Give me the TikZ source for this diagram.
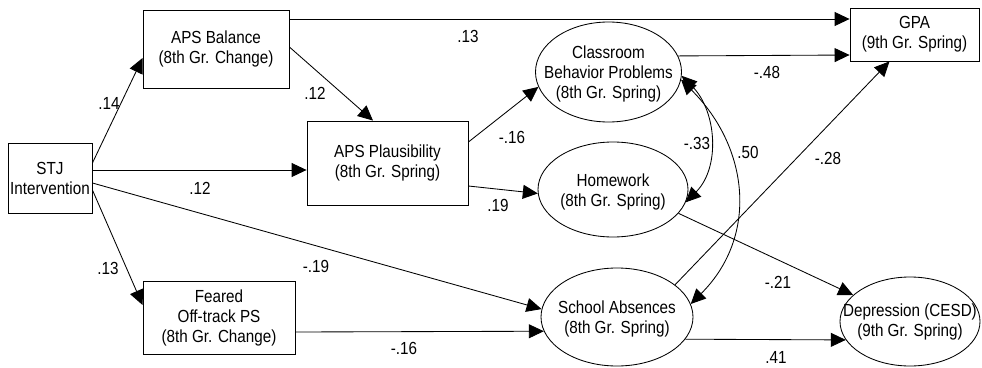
\documentclass[tikz,border=0pt]{standalone}
\usepackage{fontspec}
\setmainfont{Liberation Sans}[FakeStretch=0.87]
\usetikzlibrary{arrows.meta,shapes.geometric}
\begin{document}
\begin{tikzpicture}[x=1pt,y=-1pt,line width=0.85pt,
  >={Triangle[length=15pt,width=14pt]},
  txt/.style={font=\fontsize{17.5}{20}\selectfont,align=center,inner sep=0pt},
  box/.style={draw,rectangle,inner sep=0pt,txt},
  oval/.style={draw,ellipse,inner sep=0pt},
  lab/.style={font=\fontsize{17.5}{20}\selectfont,inner sep=0pt}]
\useasboundingbox (0,0) rectangle (982,367);
% boxes
\node[box,minimum width=84pt,minimum height=70pt] (stj) at (50,178) {STJ\\Intervention};
\node[box,minimum width=146pt,minimum height=78pt] (apsb) at (216,49) {APS Balance\\(8th Gr. Change)};
\node[box,minimum width=161pt,minimum height=84pt] (apsp) at (387.5,163) {APS Plausibility\\(8th Gr. Spring)};
\node[box,minimum width=152pt,minimum height=73pt] (fear) at (219,317.5) {Feared\\Off-track PS\\(8th Gr. Change)};
\node[box,minimum width=129pt,minimum height=53pt] (gpa) at (914.5,34.5) {GPA\\(9th Gr. Spring)};
% ellipses
\node[oval,minimum width=146pt,minimum height=100pt] (cl) at (608.5,72) {};
\node[txt] (clt) at ([yshift=-2pt]cl.center) {Classroom\\Behavior Problems\\(8th Gr. Spring)};
\node[oval,minimum width=150pt,minimum height=95pt] (hw) at (613,189.5) {};
\node[txt] (hwt) at ([yshift=-2pt]hw.center) {Homework\\(8th Gr. Spring)};
\node[oval,minimum width=152pt,minimum height=98pt] (sa) at (617,317) {};
\node[txt] (sat) at ([yshift=-2pt]sa.center) {School Absences\\(8th Gr. Spring)};
\node[oval,minimum width=140pt,minimum height=89pt] (dep) at (910,321.5) {};
\node[txt] (dept) at (dep.center) {Depression (CESD)\\(9th Gr. Spring)};
% paths
\draw[->] ([yshift=15pt]stj.east) -- ([yshift=-9pt]apsb.west);
\draw[->] ([yshift=8pt]stj.east) -- ([yshift=-7pt]apsp.west);
\draw[->] ([yshift=-5pt]stj.east) -- (sa.174);
\draw[->] ([yshift=-12pt]stj.east) -- ([yshift=12.5pt]fear.west);
\draw[->] ([yshift=30pt]apsb.east) -- ([yshift=15.5pt]gpa.west);
\draw[->] ([yshift=2pt]apsb.east) -- ([xshift=-14.5pt]apsp.north);
\draw[->] ([yshift=21pt]apsp.east) -- (cl.192);
\draw[->] ([yshift=-23pt]apsp.east) -- (hw.183);
\draw[->] ([yshift=-14.5pt]fear.east) -- (sa.191.7);
\draw[->] (cl.13.9) -- ([yshift=-20.5pt]gpa.west);
\draw[<->] (cl.-3) .. controls +(35,35) and +(35,-35) .. (hw.-10);
\draw[<->] (cl.-6) .. controls +(68,68) and +(68,-68) .. (sa.10);
\draw[->] (sa.29) -- ([xshift=-25pt]gpa.south);
\draw[->] (hw.-20) -- (dep.155);
\draw[->] (sa.-18.9) -- (dep.196.2);
% labels
\node[lab] (l1) at (109,103) {.14};
\node[lab] (l2) at (200,188) {.12};
\node[lab] (l3) at (108,268) {.13};
\node[lab] (l4) at (316,266) {-.19};
\node[lab] (l5) at (468,36) {.13};
\node[lab] (l6) at (315,93) {.12};
\node[lab] (l7) at (512,137) {-.16};
\node[lab] (l8) at (498,205) {.19};
\node[lab] (l9) at (767,72) {-.48};
\node[lab] (l10) at (697,143) {-.33};
\node[lab] (l11) at (748,152) {.50};
\node[lab] (l12) at (828,158) {-.28};
\node[lab] (l13) at (778,282) {-.21};
\node[lab] (l14) at (776,357) {.41};
\node[lab] (l15) at (404,348) {-.16};
\end{tikzpicture}
\end{document}
